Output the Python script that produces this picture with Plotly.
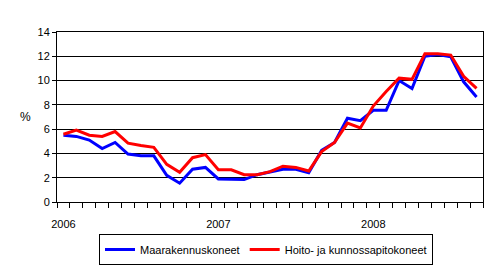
import plotly.graph_objects as go

years = ["2006", "2007", "2008"]
months = [f"{y}-{m:02d}" for y in (2006, 2007, 2008) for m in range(1, 13)][:33]

maarakennus = [5.5, 5.4, 5.1, 4.4, 4.9, 3.95, 3.8, 3.8, 2.2, 1.55, 2.7, 2.85,
               1.9, 1.85, 1.85, 2.25, 2.45, 2.7, 2.7, 2.4, 4.25, 4.9, 6.9, 6.7,
               7.55, 7.55, 10.0, 9.35, 12.0, 12.15, 11.95, 9.9, 8.65]
hoito = [5.58, 5.93, 5.5, 5.4, 5.8, 4.85, 4.65, 4.5, 3.1, 2.45, 3.65, 3.9,
         2.65, 2.65, 2.25, 2.25, 2.5, 2.95, 2.85, 2.55, 4.15, 4.9, 6.5, 6.1,
         7.9, 9.1, 10.2, 10.1, 12.2, 12.2, 12.1, 10.35, 9.35]

x = list(range(len(months)))
year_pos = [months.index(f"{y}-01") for y in years]

fig = go.Figure()
fig.add_trace(go.Scatter(x=x, y=maarakennus, mode="lines", name="Maarakennuskoneet",
                         line=dict(color="#0000FF", width=3)))
fig.add_trace(go.Scatter(x=x, y=hoito, mode="lines", name="Hoito- ja kunnossapitokoneet",
                         line=dict(color="#FF0000", width=3)))

fig.update_layout(
    width=495, height=268,
    margin=dict(l=57, r=12, t=32, b=66, autoexpand=False),
    paper_bgcolor="white", plot_bgcolor="white",
    font=dict(family="Liberation Sans, Arial, sans-serif", size=11, color="black"),
    showlegend=True,
    legend=dict(orientation="h", xref="container", x=266 / 495, xanchor="center",
                yref="container", y=1 - 249.5 / 268, yanchor="middle",
                bordercolor="black", borderwidth=1, bgcolor="white",
                font=dict(size=11), itemwidth=30, tracegroupgap=0),
    annotations=[dict(text="%", xref="paper", yref="paper", x=-0.075, y=0.5,
                      showarrow=False, font=dict(size=12), xanchor="center")],
)
fig.update_xaxes(
    range=[-0.5, len(months) - 0.5],
    tickmode="array", tickvals=year_pos, ticktext=years, ticks="", ticklen=0,
    ticklabelstandoff=12,
    showgrid=False, zeroline=False,
    showline=True, linecolor="black", linewidth=1, mirror=True,
    minor=dict(tickmode="linear", tick0=-0.5, dtick=1, ticks="outside", ticklen=5,
               tickcolor="black", showgrid=False),
    tickfont=dict(size=11),
)
fig.update_yaxes(
    range=[0, 14], dtick=2, tick0=0,
    showgrid=True, gridcolor="black", gridwidth=1, zeroline=False,
    showline=True, linecolor="black", linewidth=1, mirror=True,
    ticks="outside", ticklen=4, tickcolor="black",
    tickfont=dict(size=11),
)

fig.write_html("out.html")
